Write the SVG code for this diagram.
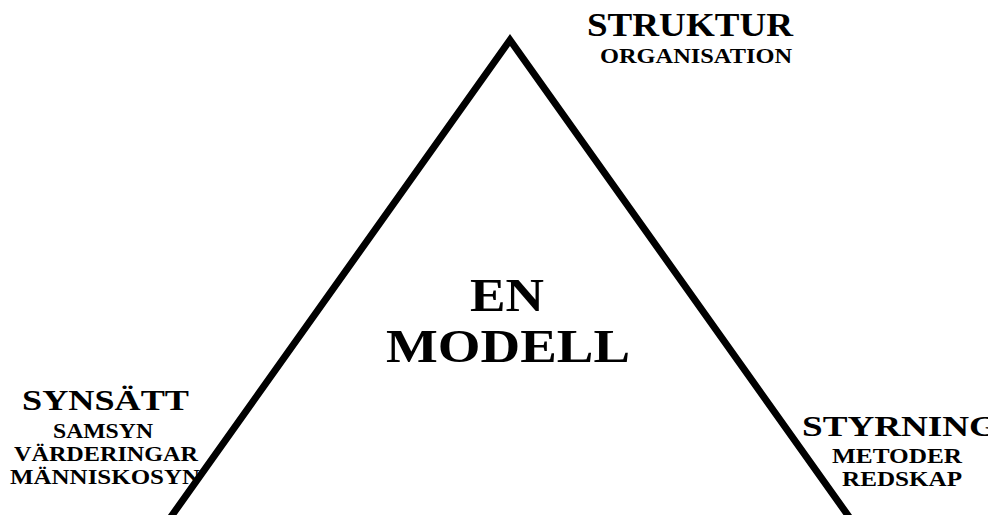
<svg xmlns="http://www.w3.org/2000/svg" width="988" height="515" viewBox="0 0 988 515">
<style>
text{font-family:"Liberation Serif","Times New Roman",serif;font-weight:bold;fill:#000;}
.big{font-size:34px;}
.mid{font-size:29px;}
.small{font-size:20px;}
.center{font-size:46px;}
.edge{fill:none;stroke:#000;stroke-width:7;stroke-linejoin:miter;stroke-miterlimit:10;}
</style>
<rect width="988" height="515" fill="#fff"/>
<g id="struktur">
<text class="big" x="587" y="36" textLength="206" lengthAdjust="spacingAndGlyphs">STRUKTUR</text>
<text class="small" x="600" y="63" textLength="192" lengthAdjust="spacingAndGlyphs">ORGANISATION</text>
</g>
<g id="modell">
<text class="center" x="470" y="311" textLength="74" lengthAdjust="spacingAndGlyphs">EN</text>
<text class="center" x="386" y="362" textLength="244" lengthAdjust="spacingAndGlyphs">MODELL</text>
</g>
<g id="synsatt">
<text class="mid" x="22" y="410" textLength="167" lengthAdjust="spacingAndGlyphs">SYNSÄTT</text>
<text class="small" x="53" y="438" textLength="100" lengthAdjust="spacingAndGlyphs">SAMSYN</text>
<text class="small" x="14" y="461" textLength="184" lengthAdjust="spacingAndGlyphs">VÄRDERINGAR</text>
<text class="small" x="10" y="484" textLength="190" lengthAdjust="spacingAndGlyphs">MÄNNISKOSYN</text>
</g>
<g id="styrning">
<text class="mid" x="802" y="436" textLength="196" lengthAdjust="spacingAndGlyphs">STYRNING</text>
<text class="small" x="832" y="463" textLength="130" lengthAdjust="spacingAndGlyphs">METODER</text>
<text class="small" x="842" y="486" textLength="120" lengthAdjust="spacingAndGlyphs">REDSKAP</text>
</g>
<g id="connectors">
<polyline class="edge" points="168,521 510,40 852,521"/>
</g>
</svg>
